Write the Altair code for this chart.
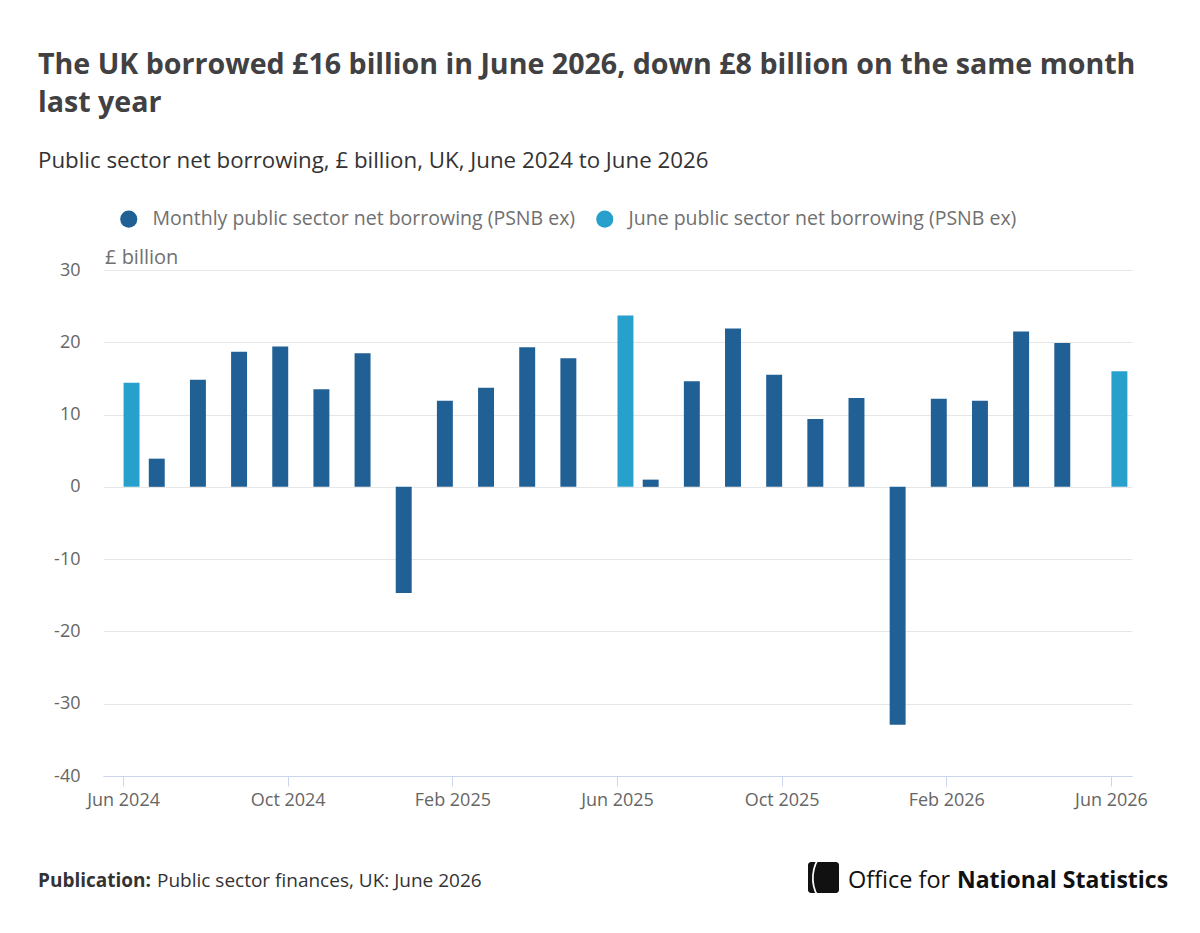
import altair as alt
import pandas as pd

# Months on the x axis, June 2024 to June 2026
months = [
    "Jun 2024", "Jul 2024", "Aug 2024", "Sep 2024", "Oct 2024", "Nov 2024",
    "Dec 2024", "Jan 2025", "Feb 2025", "Mar 2025", "Apr 2025", "May 2025",
    "Jun 2025", "Jul 2025", "Aug 2025", "Sep 2025", "Oct 2025", "Nov 2025",
    "Dec 2025", "Jan 2026", "Feb 2026", "Mar 2026", "Apr 2026", "May 2026",
    "Jun 2026",
]

# Monthly PSNB ex, £ billion (June months are shown in their own series)
monthly = [
    None, 3.9, 14.8, 18.7, 19.4, 13.5,
    18.5, -14.7, 11.9, 13.7, 19.3, 17.8,
    None, 1.0, 14.6, 21.9, 15.5, 9.4,
    12.3, -32.9, 12.2, 11.9, 21.5, 19.9,
    None,
]

# June PSNB ex, £ billion
june = [
    14.4, None, None, None, None, None,
    None, None, None, None, None, None,
    23.7, None, None, None, None, None,
    None, None, None, None, None, None,
    16.0,
]

series_names = [
    "Monthly public sector net borrowing (PSNB ex)",
    "June public sector net borrowing (PSNB ex)",
]
series_colors = ["#206095", "#27a0cc"]

axis_months = ["Jun 2024", "Oct 2024", "Feb 2025", "Jun 2025",
               "Oct 2025", "Feb 2026", "Jun 2026"]
y_ticks = [-40, -30, -20, -10, 0, 10, 20, 30]

rows = []
for m, a, b in zip(months, monthly, june):
    if a is not None:
        rows.append({"month": m, "series": series_names[0], "value": a})
    if b is not None:
        rows.append({"month": m, "series": series_names[1], "value": b})
df = pd.DataFrame(rows)

# Page layout (pixels)
LEFT, TOP = 103, 270
PLOT_W, PLOT_H = 1029, 506
FONT = "Open Sans"

bars = alt.Chart(df).mark_bar().encode(
    x=alt.X(
        "month:N",
        sort=months,
        scale=alt.Scale(domain=months, paddingInner=0, paddingOuter=0),
        axis=alt.Axis(
            values=axis_months, title=None, labelAngle=0,
            domainColor="#ccd6eb", domainWidth=1,
            tickColor="#ccd6eb", tickSize=10, tickWidth=1,
            labelColor="#666666", labelFontSize=18, labelFont=FONT,
            labelPadding=5, grid=False,
        ),
    ),
    xOffset=alt.XOffset(
        "series:N",
        scale=alt.Scale(domain=series_names, paddingInner=0, paddingOuter=0.29),
    ),
    y=alt.Y(
        "value:Q",
        stack=None,
        scale=alt.Scale(domain=[-40, 30], nice=False, zero=False),
        axis=alt.Axis(
            values=y_ticks, title=None, domain=False, ticks=False,
            grid=True, gridColor="#e6e6e6", gridWidth=1,
            labelColor="#666666", labelFontSize=18, labelFont=FONT,
            labelPadding=23,
            labelExpr="replace(datum.label, '\u2212', '-')",
        ),
    ),
    color=alt.Color(
        "series:N",
        scale=alt.Scale(domain=series_names, range=series_colors),
        legend=alt.Legend(
            title=None, orient="none", direction="horizontal",
            legendX=16, legendY=-61, padding=0,
            symbolType="circle", symbolSize=290, symbolOpacity=1,
            symbolStrokeWidth=0, labelFontSize=19.5, labelFont=FONT,
            labelColor="#707070", labelOffset=14, labelLimit=0,
            columnPadding=19,
        ),
    ),
)


def text_layer(text, x, y, size, weight="normal", color="#414042",
               align="left", baseline="alphabetic"):
    return alt.Chart(pd.DataFrame({"t": [text]})).mark_text(
        align=align, baseline=baseline, font=FONT, fontSize=size,
        fontWeight=weight, color=color,
    ).encode(text="t:N", x=alt.value(x - LEFT), y=alt.value(y - TOP))


title1 = text_layer(
    "The UK borrowed £16 billion in June 2026, down £8 billion on the same month",
    38, 74, 28.6, weight="bold")
title2 = text_layer("last year", 38, 112, 28.6, weight="bold")
subtitle = text_layer(
    "Public sector net borrowing, £ billion, UK, June 2024 to June 2026",
    38, 168, 22.3, color="#333333")
unit = text_layer("£ billion", 105, 264, 20, color="#707070")
pub_bold = text_layer("Publication:", 38, 887, 19, weight="bold", color="#333333")
pub_text = text_layer("Public sector finances, UK: June 2026", 157, 887, 19,
                      color="#333333")
ons_reg = text_layer("Office for", 848, 888, 23.5, color="#111111")
ons_bold = text_layer("National Statistics", 957, 888, 23, weight="bold",
                      color="#111111")

logo_box = alt.Chart(pd.DataFrame({"t": [0]})).mark_rect(
    color="#111111", cornerRadius=3
).encode(
    x=alt.value(808 - LEFT), x2=alt.value(839 - LEFT),
    y=alt.value(862 - TOP), y2=alt.value(893 - TOP),
)
logo_arc = alt.Chart(pd.DataFrame({"t": [0]})).mark_arc(
    color="white", theta=4.2, theta2=5.4, radius=38, radius2=36.3,
).encode(x=alt.value(850 - LEFT), y=alt.value(878 - TOP))

chart = alt.layer(
    bars, title1, title2, subtitle, unit, pub_bold, pub_text,
    logo_box, logo_arc, ons_reg, ons_bold,
).properties(
    width=PLOT_W, height=PLOT_H,
    autosize=alt.AutoSizeParams(type="none"),
    padding={"left": LEFT, "top": TOP, "right": 1200 - LEFT - PLOT_W,
             "bottom": 933 - TOP - PLOT_H},
    background="white",
).configure(font=FONT, view=alt.ViewConfig(stroke=None))

chart.save("out.html", embed_options={"renderer": "svg", "actions": False})
